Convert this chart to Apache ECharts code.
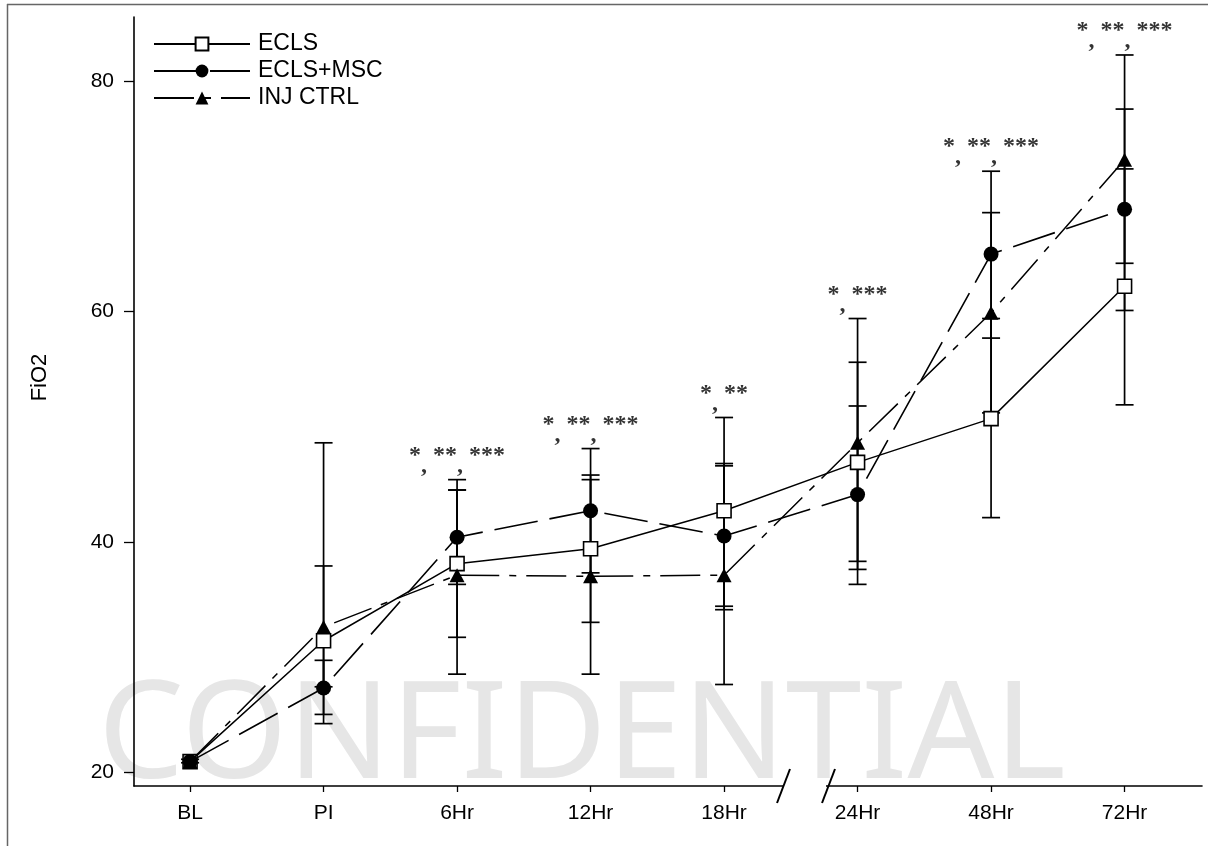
<!DOCTYPE html>
<html><head><meta charset="utf-8">
<script src="https://cdn.jsdelivr.net/npm/echarts@6/dist/echarts.min.js"></script>
<style>html,body{margin:0;padding:0;background:#fff}#c{width:1208px;height:846px}</style>
</head><body><div id="c"></div>
<script>
const categories = ['BL','PI','6Hr','12Hr','18Hr','24Hr','48Hr','72Hr'];
const yTicks = [20,40,60,80];
const seriesNames = ['ECLS','ECLS+MSC','INJ CTRL'];
const eclsMean = [20.9,31.4,38.1,39.4,42.7,46.9,50.7,62.2];
const eclsHigh = [21.1,48.6,44.5,45.8,50.8,55.6,59.4,72.4];
const eclsLow  = [20.8,24.2,31.7,33.0,34.4,38.3,42.1,51.9];
const mscMean  = [20.9,27.3,40.4,42.7,40.5,44.1,65.0,68.9];
const mscHigh  = [null,29.7,44.5,48.1,46.8,51.8,72.2,77.6];
const mscLow   = [null,25.0,36.3,37.3,34.1,36.3,57.7,60.1];
const injMean  = [20.9,32.6,37.1,37.0,37.1,48.6,59.9,73.2];
const injHigh  = [null,37.9,45.4,45.4,46.6,59.4,68.6,82.3];
const injLow   = [null,27.4,28.5,28.5,27.6,37.6,51.2,64.2];
const annotations = ['','','*, **, ***','*, **, ***','*, **','*, ***','*, **, ***','*, **, ***'];

const chart = echarts.init(document.getElementById('c'), null, {renderer:'canvas'});
const BLACK = '#000';
const FONT = '"Liberation Sans", Arial, sans-serif';

function errSeries(name, low, high) {
  const data = [];
  low.forEach((l, i) => { if (l != null) data.push([i, l, high[i]]); });
  return {
    type: 'custom', name: name, z: 1, silent: true,
    data: data,
    encode: {x: 0, y: [1, 2]},
    renderItem: function (params, api) {
      const x = api.value(0);
      const lo = api.coord([x, api.value(1)]);
      const hi = api.coord([x, api.value(2)]);
      const w = 9;
      const st = {stroke: BLACK, lineWidth: 1.7};
      return {type: 'group', children: [
        {type: 'line', shape: {x1: lo[0], y1: lo[1], x2: hi[0], y2: hi[1]}, style: st},
        {type: 'line', shape: {x1: lo[0]-w, y1: lo[1], x2: lo[0]+w, y2: lo[1]}, style: st},
        {type: 'line', shape: {x1: hi[0]-w, y1: hi[1], x2: hi[0]+w, y2: hi[1]}, style: st}
      ]};
    }
  };
}

const annData = [];
annotations.forEach((a, i) => {
  if (!a) return;
  const tops = [eclsHigh[i], mscHigh[i], injHigh[i]].filter(v => v != null);
  annData.push({value: [i, Math.max.apply(null, tops)], text: a});
});

function annFormatter(p) {
  const parts = p.data.text.split(',');
  let s = '';
  parts.forEach((t, k) => {
    s += '{s|' + t + '}';
    if (k < parts.length - 1) s += '{c|,}';
  });
  return s;
}

const option = {
  animation: false,
  backgroundColor: '#fff',
  grid: {left: 134, right: 6, top: 17, bottom: 60, containLabel: false},
  xAxis: {
    type: 'value', min: -0.42, max: 7.58,
    splitLine: {show: false},
    axisLine: {show: true, onZero: false, lineStyle: {color: BLACK, width: 1.6}},
    axisTick: {show: true, customValues: categories.map((c, i) => i), length: 6, lineStyle: {color: BLACK, width: 1.3}},
    axisLabel: {customValues: categories.map((c, i) => i), formatter: v => categories[Math.round(v)],
      color: BLACK, fontFamily: FONT, fontSize: 21, margin: 17}
  },
  yAxis: {
    type: 'value', min: 18.78, max: 85.6,
    name: 'FiO2', nameLocation: 'middle', nameGap: 83, nameRotate: 90,
    nameTextStyle: {color: BLACK, fontFamily: FONT, fontSize: 22, padding: [0,0,0,48]},
    splitLine: {show: false},
    axisLine: {show: true, onZero: false, lineStyle: {color: BLACK, width: 1.6}},
    axisTick: {show: true, customValues: yTicks, length: 10, lineStyle: {color: BLACK, width: 1.3}},
    axisLabel: {customValues: yTicks, color: BLACK, fontFamily: FONT, fontSize: 21, margin: 20}
  },
  legend: {
    data: seriesNames,
    orient: 'vertical', left: 148, top: 27,
    itemWidth: 96, itemHeight: 16, itemGap: 3,
    textStyle: {color: BLACK, fontFamily: FONT, fontSize: 23, lineHeight: 24, padding: [0,0,0,3]}
  },
  graphic: [
    {type: 'text', z: -10, silent: true, left: 98, top: 671,
      style: {text: 'CONFIDENTIAL', font: '136px "Noto Sans"', fill: '#e6e6e6'}},
    {type: 'line', z: 100, silent: true, shape: {x1: 7, y1: 4.5, x2: 1208, y2: 4.5}, style: {stroke: '#666', lineWidth: 1.5}},
    {type: 'line', z: 100, silent: true, shape: {x1: 7.5, y1: 4, x2: 7.5, y2: 846}, style: {stroke: '#666', lineWidth: 1.5}},
    {type: 'rect', z: 100, silent: true, shape: {x: 784, y: 782, width: 42, height: 8}, style: {fill: '#fff'}},
    {type: 'line', z: 101, silent: true, shape: {x1: 790, y1: 769, x2: 777, y2: 803}, style: {stroke: BLACK, lineWidth: 2}},
    {type: 'line', z: 101, silent: true, shape: {x1: 835, y1: 769, x2: 822, y2: 803}, style: {stroke: BLACK, lineWidth: 2}}
  ],
  series: [
    errSeries('errECLS', eclsLow, eclsHigh),
    errSeries('errMSC', mscLow, mscHigh),
    errSeries('errINJ', injLow, injHigh),
    {
      name: 'ECLS', type: 'line', z: 3,
      data: eclsMean.map((v, i) => [i, v]),
      symbol: 'rect', symbolSize: 14, showSymbol: true,
      lineStyle: {color: BLACK, width: 1.5, type: 'solid'},
      itemStyle: {color: '#fff', borderColor: BLACK, borderWidth: 1.6}
    },
    {
      name: 'ECLS+MSC', type: 'line', z: 4,
      data: mscMean.map((v, i) => [i, v]),
      symbol: 'circle', symbolSize: 15,
      lineStyle: {color: BLACK, width: 1.6, type: [44, 12]},
      itemStyle: {color: BLACK}
    },
    {
      name: 'INJ CTRL', type: 'line', z: 5,
      data: injMean.map((v, i) => [i, v]),
      symbol: 'triangle', symbolSize: [15, 14],
      lineStyle: {color: BLACK, width: 1.5, type: [40, 10, 7, 10]},
      itemStyle: {color: BLACK}
    },
    {
      name: 'annotations', type: 'scatter', z: 6, silent: true,
      symbolSize: 0, data: annData,
      label: {show: true, position: 'top', distance: 2, formatter: annFormatter,
        rich: {
          s: {fontFamily: '"Liberation Serif", serif', fontSize: 24, fontWeight: 'bold', color: BLACK, lineHeight: 34, verticalAlign: 'top'},
          c: {fontFamily: '"Liberation Serif", serif', fontSize: 24, fontWeight: 'bold', color: BLACK, lineHeight: 34, verticalAlign: 'bottom'}
        }}
    }
  ]
};
chart.setOption(option);
</script></body></html>
